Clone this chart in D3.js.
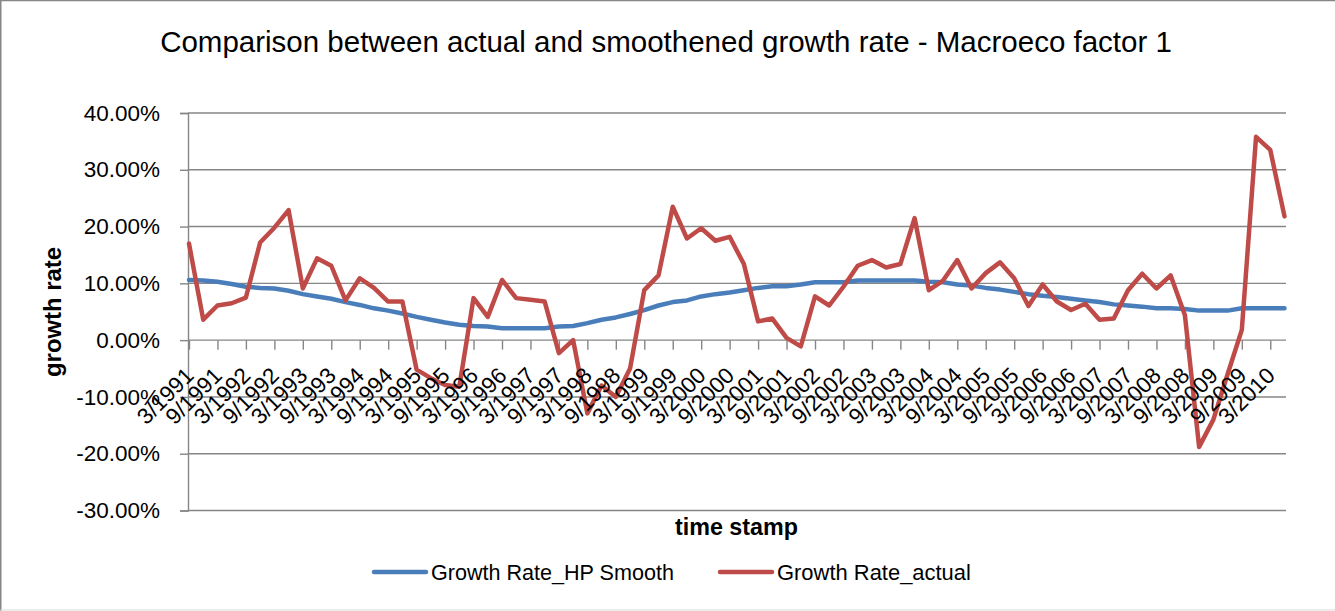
<!DOCTYPE html>
<html>
<head>
<meta charset="utf-8">
<script src="https://cdn.jsdelivr.net/npm/d3@7"></script>
<style>
  body { margin: 0; background: #fff; }
  text { font-family: "Liberation Sans", Arial, sans-serif; fill: #000; }
</style>
</head>
<body>
<div id="chart"></div>
<script>
// Quarterly time stamps (only every second one is labelled on the axis)
var quarters = [
  "3/1991","6/1991","9/1991","12/1991","3/1992","6/1992","9/1992","12/1992",
  "3/1993","6/1993","9/1993","12/1993","3/1994","6/1994","9/1994","12/1994",
  "3/1995","6/1995","9/1995","12/1995","3/1996","6/1996","9/1996","12/1996",
  "3/1997","6/1997","9/1997","12/1997","3/1998","6/1998","9/1998","12/1998",
  "3/1999","6/1999","9/1999","12/1999","3/2000","6/2000","9/2000","12/2000",
  "3/2001","6/2001","9/2001","12/2001","3/2002","6/2002","9/2002","12/2002",
  "3/2003","6/2003","9/2003","12/2003","3/2004","6/2004","9/2004","12/2004",
  "3/2005","6/2005","9/2005","12/2005","3/2006","6/2006","9/2006","12/2006",
  "3/2007","6/2007","9/2007","12/2007","3/2008","6/2008","9/2008","12/2008",
  "3/2009","6/2009","9/2009","12/2009","3/2010","6/2010"
]

// Growth rates in percent
var hpSmooth = [
  10.6, 10.5, 10.3, 9.9, 9.4, 9.2, 9.1, 8.7, 8.1, 7.7,
  7.3, 6.7, 6.2, 5.6, 5.2, 4.7, 4.1, 3.6, 3.1, 2.7,
  2.5, 2.4, 2.1, 2.1, 2.1, 2.1, 2.4, 2.5, 3.0, 3.6,
  4.0, 4.6, 5.3, 6.1, 6.7, 7.0, 7.7, 8.1, 8.4, 8.8,
  9.2, 9.5, 9.5, 9.8, 10.2, 10.2, 10.2, 10.5, 10.5, 10.5,
  10.5, 10.5, 10.3, 10.2, 9.8, 9.6, 9.2, 8.9, 8.5, 8.1,
  7.8, 7.6, 7.3, 7.0, 6.7, 6.3, 6.1, 5.9, 5.6, 5.6,
  5.5, 5.2, 5.2, 5.2, 5.6, 5.6, 5.6, 5.6
]
var actual = [
  17.0, 3.6, 6.1, 6.5, 7.5, 17.2, 19.8, 22.9, 9.1, 14.4,
  13.1, 7.0, 10.9, 9.2, 6.8, 6.8, -5.2, -6.7, -7.9, -8.2,
  7.4, 4.1, 10.6, 7.4, 7.1, 6.8, -2.3, 0.0, -12.9, -8.0,
  -10.0, -5.0, 8.8, 11.4, 23.5, 17.9, 19.7, 17.5, 18.2, 13.4,
  3.3, 3.8, 0.4, -1.1, 7.7, 6.1, 9.4, 13.1, 14.1, 12.8,
  13.4, 21.5, 8.8, 10.5, 14.1, 9.1, 11.8, 13.7, 10.9, 6.0,
  9.8, 6.8, 5.3, 6.4, 3.6, 3.8, 8.8, 11.7, 9.1, 11.4,
  4.4, -18.8, -14.0, -6.0, 1.8, 35.8, 33.5, 21.8
]

var seriesNames = ["Growth Rate_HP Smooth", "Growth Rate_actual"]
var seriesColors = ["#4A7EBB", "#BE4B48"]
var yTicks = [-0.3, -0.2, -0.1, 0, 0.1, 0.2, 0.3, 0.4]

var W = 1335, H = 611
var plot = { left: 188, right: 1286, top: 113, bottom: 510.5 }
var gridColor = "#868686"

var svg = d3.select("#chart")
  .append("svg")
  .attr("width", W)
  .attr("height", H)

// outer chart frame
svg.append("line").attr("x1", 0).attr("x2", W).attr("y1", 0.5).attr("y2", 0.5)
  .attr("stroke", gridColor).attr("stroke-width", 1.5)
svg.append("line").attr("x1", 0.75).attr("x2", 0.75).attr("y1", 0).attr("y2", H)
  .attr("stroke", gridColor).attr("stroke-width", 1.5)
svg.append("line").attr("x1", 0).attr("x2", W).attr("y1", 610).attr("y2", 610)
  .attr("stroke", "#d9d9d9").attr("stroke-width", 1)

// scales
var x = d3.scalePoint()
  .domain(quarters)
  .range([189, 1284.5])

var y = d3.scaleLinear()
  .domain([-0.3, 0.4])
  .range([plot.bottom, plot.top])

// percent format with a plain hyphen for negatives (as Excel does)
var pct = d3.formatLocale({ decimal: ".", thousands: ",", grouping: [3], currency: ["", ""], minus: "-" }).format(".2%")

// horizontal gridlines
svg.append("g")
  .selectAll("line")
  .data(yTicks)
  .enter()
  .append("line")
  .attr("x1", plot.left)
  .attr("x2", plot.right)
  .attr("y1", function(d) { return y(d) })
  .attr("y2", function(d) { return y(d) })
  .attr("stroke", gridColor)
  .attr("stroke-width", 1.4)

// Y axis
var yAxis = svg.append("g")
  .attr("transform", "translate(" + plot.left + ",0)")
  .call(d3.axisLeft(y).tickValues(yTicks).tickSize(8).tickPadding(20).tickFormat(pct))
yAxis.select(".domain").attr("stroke", gridColor).attr("stroke-width", 1.4)
yAxis.selectAll(".tick line").attr("stroke", gridColor).attr("stroke-width", 1.4)
yAxis.selectAll(".tick text")
  .attr("font-size", "22.5px")
  .attr("font-family", "Liberation Sans, Arial, sans-serif")
  .attr("fill", "#000")

// X axis sitting on the 0% line, every second quarter labelled
var labelled = quarters.filter(function(d, i) { return i % 2 === 0 })
var xAxis = svg.append("g")
  .attr("transform", "translate(0," + y(0) + ")")
  .call(d3.axisBottom(x).tickValues(labelled).tickSize(9.5).tickFormat(""))
xAxis.select(".domain").remove()
xAxis.selectAll(".tick line").attr("stroke", gridColor).attr("stroke-width", 1.4)

// lines
var line = d3.line()
  .x(function(d) { return x(d.q) })
  .y(function(d) { return y(d.v / 100) })

var series = [hpSmooth, actual].map(function(vals) {
  return vals.map(function(v, i) { return { q: quarters[i], v: v } })
})

svg.append("g")
  .selectAll("path")
  .data(series)
  .enter()
  .append("path")
  .attr("d", line)
  .attr("fill", "none")
  .attr("stroke", function(d, i) { return seriesColors[i] })
  .attr("stroke-width", 4.5)
  .attr("stroke-linejoin", "round")
  .attr("stroke-linecap", "round")

// rotated category labels
svg.append("g")
  .selectAll("text")
  .data(labelled)
  .enter()
  .append("text")
  .attr("transform", function(d) { return "translate(" + (x(d) + 6) + ",377) rotate(-45)" })
  .attr("text-anchor", "end")
  .attr("font-size", "22.5px")
  .text(function(d) { return d })

// scale a text's font so it spans a given width
function fitWidth(sel, target) {
  var fs = parseFloat(sel.attr("font-size"))
  var len = sel.node().getComputedTextLength()
  sel.attr("font-size", (fs * target / len).toFixed(2) + "px")
}

// title
var title = svg.append("text")
  .attr("x", 666)
  .attr("y", 52)
  .attr("text-anchor", "middle")
  .attr("font-size", "26px")
  .text("Comparison between actual and smoothened growth rate - Macroeco factor 1")
fitWidth(title, 1012)

// axis titles
var xTitle = svg.append("text")
  .attr("x", 736.5)
  .attr("y", 535)
  .attr("text-anchor", "middle")
  .attr("font-size", "22px")
  .attr("font-weight", "bold")
  .text("time stamp")
fitWidth(xTitle, 123)

var yTitle = svg.append("text")
  .attr("transform", "translate(61,312) rotate(-90)")
  .attr("text-anchor", "middle")
  .attr("font-size", "22px")
  .attr("font-weight", "bold")
  .text("growth rate")
fitWidth(yTitle, 130)

// legend
var legendX = [372, 718]
var legendTextW = [243, 194]
var legend = svg.append("g")
  .selectAll("g")
  .data(seriesNames)
  .enter()
  .append("g")
  .attr("transform", function(d, i) { return "translate(" + legendX[i] + ",572)" })

legend.append("line")
  .attr("x1", 2).attr("x2", 54)
  .attr("stroke", function(d, i) { return seriesColors[i] })
  .attr("stroke-width", 4.5)
  .attr("stroke-linecap", "round")

legend.append("text")
  .attr("x", 59)
  .attr("y", 8)
  .attr("font-size", "21px")
  .text(function(d) { return d })
  .each(function(d, i) { fitWidth(d3.select(this), legendTextW[i]) })
</script>
</body>
</html>
